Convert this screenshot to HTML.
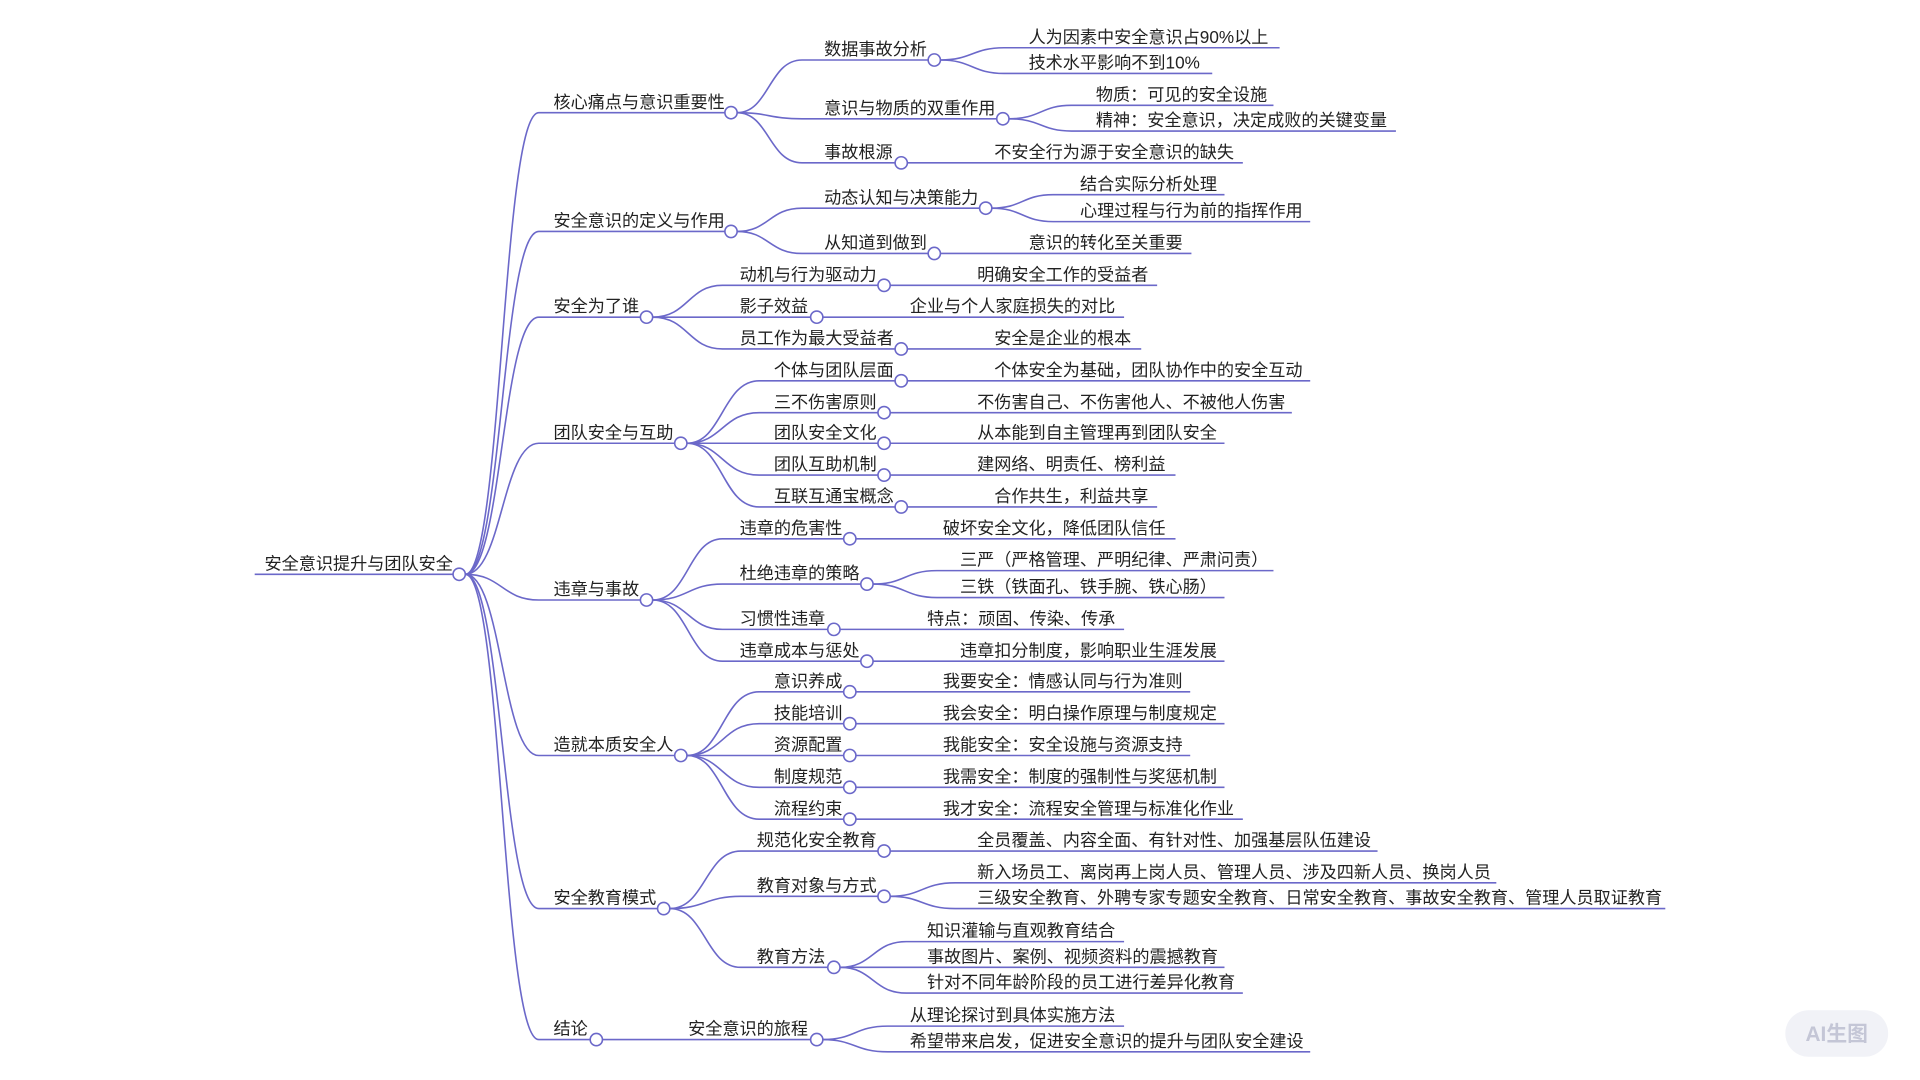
<!DOCTYPE html>
<html><head><meta charset="utf-8"><style>
html,body{margin:0;padding:0;background:#fff;width:1920px;height:1080px;overflow:hidden}
svg{display:block}
text{font-family:"Liberation Sans","Noto Sans CJK SC",sans-serif;font-size:14px;fill:#222}
path{fill:none;stroke:#6b68c9;stroke-width:1.3}
circle{fill:#fff;stroke:#6b68c9;stroke-width:1.3}
</style></head><body>
<svg width="1920" height="1080" viewBox="0 0 1568 882" preserveAspectRatio="none">
<!-- root -->
<path d="M208,469 H370"/>
<text x="216" y="465">安全意识提升与团队安全</text>
<!-- root to level1 -->
<path d="M380,469 C410,469 410,92 440,92 H592"/>
<path d="M380,469 C410,469 410,189 440,189 H592"/>
<path d="M380,469 C410,469 410,259 440,259 H523"/>
<path d="M380,469 C410,469 410,362 440,362 H551"/>
<path d="M380,469 C410,469 410,490 440,490 H523"/>
<path d="M380,469 C410,469 410,617 440,617 H551"/>
<path d="M380,469 C410,469 410,742 440,742 H537"/>
<path d="M380,469 C410,469 410,849 440,849 H482"/>
<text x="452" y="88">核心痛点与意识重要性</text>
<text x="452" y="185">安全意识的定义与作用</text>
<text x="452" y="255">安全为了谁</text>
<text x="452" y="358">团队安全与互助</text>
<text x="452" y="486">违章与事故</text>
<text x="452" y="613">造就本质安全人</text>
<text x="452" y="738">安全教育模式</text>
<text x="452" y="845">结论</text>

<!-- 核心 -->
<path d="M602,92 C628,92 628,49 655,49 H758"/>
<path d="M602,92 C628,92 628,97 655,97 H814"/>
<path d="M602,92 C628,92 628,133 655,133 H731"/>
<text x="673" y="45">数据事故分析</text>
<text x="673" y="93">意识与物质的双重作用</text>
<text x="673" y="129">事故根源</text>
<path d="M768,49 C794,49 794,39 820,39 H1045"/>
<path d="M768,49 C794,49 794,60 820,60 H990"/>
<text x="840" y="35">人为因素中安全意识占90%以上</text>
<text x="840" y="56">技术水平影响不到10%</text>
<path d="M824,97 C850,97 850,86 875,86 H1040"/>
<path d="M824,97 C850,97 850,107 875,107 H1140"/>
<text x="895" y="82">物质：可见的安全设施</text>
<text x="895" y="103">精神：安全意识，决定成败的关键变量</text>
<path d="M741,133 H1015"/>
<text x="812" y="129">不安全行为源于安全意识的缺失</text>

<!-- 定义 -->
<path d="M602,189 C628,189 628,170 655,170 H800"/>
<path d="M602,189 C628,189 628,207 655,207 H758"/>
<text x="673" y="166">动态认知与决策能力</text>
<text x="673" y="203">从知道到做到</text>
<path d="M810,170 C835,170 835,159 860,159 H1000"/>
<path d="M810,170 C835,170 835,181 860,181 H1070"/>
<text x="882" y="155">结合实际分析处理</text>
<text x="882" y="177">心理过程与行为前的指挥作用</text>
<path d="M768,207 H973"/>
<text x="840" y="203">意识的转化至关重要</text>

<!-- 谁 -->
<path d="M533,259 C562,259 562,233 590,233 H717"/>
<path d="M533,259 H662"/>
<path d="M533,259 C562,259 562,285 590,285 H731"/>
<text x="604" y="229">动机与行为驱动力</text>
<text x="604" y="255">影子效益</text>
<text x="604" y="281">员工作为最大受益者</text>
<path d="M727,233 H945"/><text x="798" y="229">明确安全工作的受益者</text>
<path d="M672,259 H918"/><text x="743" y="255">企业与个人家庭损失的对比</text>
<path d="M741,285 H932"/><text x="812" y="281">安全是企业的根本</text>

<!-- 团队 -->
<path d="M561,362 C590,362 590,311 620,311 H731"/>
<path d="M561,362 C590,362 590,337 620,337 H717"/>
<path d="M561,362 H717"/>
<path d="M561,362 C590,362 590,388 620,388 H717"/>
<path d="M561,362 C590,362 590,414 620,414 H731"/>
<text x="632" y="307">个体与团队层面</text>
<text x="632" y="333">三不伤害原则</text>
<text x="632" y="358">团队安全文化</text>
<text x="632" y="384">团队互助机制</text>
<text x="632" y="410">互联互通宝概念</text>
<path d="M741,311 H1070"/><text x="812" y="307">个体安全为基础，团队协作中的安全互动</text>
<path d="M727,337 H1055"/><text x="798" y="333">不伤害自己、不伤害他人、不被他人伤害</text>
<path d="M727,362 H1000"/><text x="798" y="358">从本能到自主管理再到团队安全</text>
<path d="M727,388 H960"/><text x="798" y="384">建网络、明责任、榜利益</text>
<path d="M741,414 H945"/><text x="812" y="410">合作共生，利益共享</text>

<!-- 违章 -->
<path d="M533,490 C562,490 562,440 590,440 H689"/>
<path d="M533,490 C562,490 562,477 590,477 H703"/>
<path d="M533,490 C562,490 562,514 590,514 H676"/>
<path d="M533,490 C562,490 562,540 590,540 H703"/>
<text x="604" y="436">违章的危害性</text>
<text x="604" y="473">杜绝违章的策略</text>
<text x="604" y="510">习惯性违章</text>
<text x="604" y="536">违章成本与惩处</text>
<path d="M699,440 H960"/><text x="770" y="436">破坏安全文化，降低团队信任</text>
<path d="M713,477 C739,477 739,466 765,466 H1040"/>
<path d="M713,477 C739,477 739,488 765,488 H1000"/>
<text x="784" y="462">三严（严格管理、严明纪律、严肃问责）</text>
<text x="784" y="484">三铁（铁面孔、铁手腕、铁心肠）</text>
<path d="M686,514 H918"/><text x="757" y="510">特点：顽固、传染、传承</text>
<path d="M713,540 H1000"/><text x="784" y="536">违章扣分制度，影响职业生涯发展</text>

<!-- 造就 -->
<path d="M561,617 C590,617 590,565 620,565 H689"/>
<path d="M561,617 C590,617 590,591 620,591 H689"/>
<path d="M561,617 H689"/>
<path d="M561,617 C590,617 590,643 620,643 H689"/>
<path d="M561,617 C590,617 590,669 620,669 H689"/>
<text x="632" y="561">意识养成</text>
<text x="632" y="587">技能培训</text>
<text x="632" y="613">资源配置</text>
<text x="632" y="639">制度规范</text>
<text x="632" y="665">流程约束</text>
<path d="M699,565 H972"/><text x="770" y="561">我要安全：情感认同与行为准则</text>
<path d="M699,591 H1000"/><text x="770" y="587">我会安全：明白操作原理与制度规定</text>
<path d="M699,617 H972"/><text x="770" y="613">我能安全：安全设施与资源支持</text>
<path d="M699,643 H1000"/><text x="770" y="639">我需安全：制度的强制性与奖惩机制</text>
<path d="M699,669 H1015"/><text x="770" y="665">我才安全：流程安全管理与标准化作业</text>

<!-- 教育 -->
<path d="M547,742 C576,742 576,695 605,695 H717"/>
<path d="M547,742 C576,742 576,732 605,732 H717"/>
<path d="M547,742 C576,742 576,790 605,790 H676"/>
<text x="618" y="691">规范化安全教育</text>
<text x="618" y="728">教育对象与方式</text>
<text x="618" y="786">教育方法</text>
<path d="M727,695 H1125"/><text x="798" y="691">全员覆盖、内容全面、有针对性、加强基层队伍建设</text>
<path d="M727,732 C753,732 753,721 780,721 H1222"/>
<path d="M727,732 C753,732 753,742 780,742 H1360"/>
<text x="798" y="717">新入场员工、离岗再上岗人员、管理人员、涉及四新人员、换岗人员</text>
<text x="798" y="738">三级安全教育、外聘专家专题安全教育、日常安全教育、事故安全教育、管理人员取证教育</text>
<path d="M686,790 C713,790 713,769 740,769 H918"/>
<path d="M686,790 H1000"/>
<path d="M686,790 C713,790 713,811 740,811 H1015"/>
<text x="757" y="765">知识灌输与直观教育结合</text>
<text x="757" y="786">事故图片、案例、视频资料的震撼教育</text>
<text x="757" y="807">针对不同年龄阶段的员工进行差异化教育</text>

<!-- 结论 -->
<path d="M492,849 H662"/>
<text x="562" y="845">安全意识的旅程</text>
<path d="M672,849 C698,849 698,838 725,838 H918"/>
<path d="M672,849 C698,849 698,859 725,859 H1070"/>
<text x="743" y="834">从理论探讨到具体实施方法</text>
<text x="743" y="855">希望带来启发，促进安全意识的提升与团队安全建设</text>

<!-- circles -->
<circle cx="375" cy="469" r="5"/>
<circle cx="597" cy="92" r="5"/><circle cx="597" cy="189" r="5"/><circle cx="528" cy="259" r="5"/>
<circle cx="556" cy="362" r="5"/><circle cx="528" cy="490" r="5"/><circle cx="556" cy="617" r="5"/>
<circle cx="542" cy="742" r="5"/><circle cx="487" cy="849" r="5"/>
<circle cx="763" cy="49" r="5"/><circle cx="819" cy="97" r="5"/><circle cx="736" cy="133" r="5"/>
<circle cx="805" cy="170" r="5"/><circle cx="763" cy="207" r="5"/>
<circle cx="722" cy="233" r="5"/><circle cx="667" cy="259" r="5"/><circle cx="736" cy="285" r="5"/>
<circle cx="736" cy="311" r="5"/><circle cx="722" cy="337" r="5"/><circle cx="722" cy="362" r="5"/>
<circle cx="722" cy="388" r="5"/><circle cx="736" cy="414" r="5"/>
<circle cx="694" cy="440" r="5"/><circle cx="708" cy="477" r="5"/><circle cx="681" cy="514" r="5"/><circle cx="708" cy="540" r="5"/>
<circle cx="694" cy="565" r="5"/><circle cx="694" cy="591" r="5"/><circle cx="694" cy="617" r="5"/>
<circle cx="694" cy="643" r="5"/><circle cx="694" cy="669" r="5"/>
<circle cx="722" cy="695" r="5"/><circle cx="722" cy="732" r="5"/><circle cx="681" cy="790" r="5"/>
<circle cx="667" cy="849" r="5"/>

<!-- badge -->
<rect x="1458" y="825" width="84" height="38" rx="19" fill="#f1f2f7" stroke="none"/>
<text x="1500" y="850" text-anchor="middle" style="font-size:17px;fill:#c4c6d6;font-weight:bold">AI生图</text>
</svg>
</body></html>
